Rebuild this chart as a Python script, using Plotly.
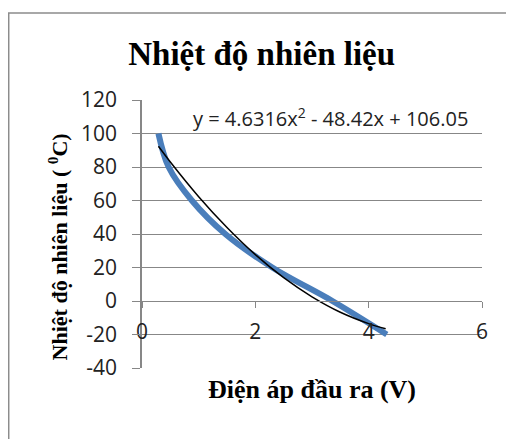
import plotly.graph_objects as go

# Measured data (blue curve)
volt = [0.29, 0.47, 0.88, 1.47, 2.30, 3.36, 4.32]
temp = [100, 80, 60, 40, 20, 0, -20]

# Trendline (black curve) values
fit_x = [0.29, 0.5, 1.0, 1.5, 2.0, 2.5, 3.0, 3.5, 4.0, 4.3]
fit_y = [92.4, 83.0, 62.3, 43.9, 27.7, 13.9, 2.5, -6.7, -13.5, -16.6]

x_ticks = [0, 2, 4, 6]
y_ticks = [-40, -20, 0, 20, 40, 60, 80, 100, 120]
x_ticktext = ["0", "2", "4", "6"]
y_ticktext = ["-40", "-20", "0", "20", "40", "60", "80", "100", "120"]

title_text = "Nhiệt độ nhiên liệu"
x_title = "Điện áp đầu ra (V)"
y_title = "Nhiệt độ nhiên liệu ( <sup>0</sup>C)"
equation = "y = 4.6316x<sup>2</sup> - 48.42x + 106.05"

GRID = "#878787"
SERIF = "Liberation Serif, Times New Roman, serif"
SANS = "Open Sans, Liberation Sans, sans-serif"

fig = go.Figure()
fig.add_trace(go.Scatter(x=volt, y=temp, mode="lines",
                         line=dict(color="#4A7EBB", width=6, shape="spline", smoothing=1.0),
                         hoverinfo="skip"))
fig.add_trace(go.Scatter(x=fit_x, y=fit_y, mode="lines",
                         line=dict(color="#000000", width=1.5, shape="spline"),
                         hoverinfo="skip"))

fig.update_layout(
    width=506, height=431,
    margin=dict(l=134, r=32, t=92, b=71),
    paper_bgcolor="white", plot_bgcolor="white",
    showlegend=False,
    title=dict(text=f"<b>{title_text}</b>", font=dict(family=SERIF, size=33, color="#000"),
               xref="paper", x=0.352, xanchor="center", yref="container", y=0.8956, yanchor="middle"),
    xaxis=dict(range=[0, 6], tickvals=x_ticks, ticktext=x_ticktext, anchor="free", position=0.25,
               showline=True, linecolor=GRID, linewidth=1.3, showgrid=False, zeroline=False,
               ticks="outside", ticklen=6, tickcolor=GRID, tickwidth=1.3,
               ticklabelstandoff=6, automargin=False,
               tickfont=dict(family=SANS, size=21, color="#222")),
    yaxis=dict(range=[-40, 120], tickvals=y_ticks, ticktext=y_ticktext, domain=[0, 1],
               showline=True, linecolor=GRID, linewidth=1.5, showgrid=True, gridcolor=GRID, gridwidth=1.3,
               zeroline=False, ticks="outside", ticklen=8, tickcolor=GRID, tickwidth=1.3,
               ticklabelstandoff=11, automargin=False,
               tickfont=dict(family=SANS, size=21, color="#222")),
)

fig.add_annotation(text=equation, x=3.32, y=109.7, xref="x", yref="y", showarrow=False,
                   font=dict(family=SANS, size=20, color="#222"), xanchor="center", yanchor="middle")
fig.add_annotation(text=f"<b>{x_title}</b>", x=0.4996, y=-0.082, xref="paper", yref="paper",
                   showarrow=False, font=dict(family=SERIF, size=26, color="#000"),
                   xanchor="center", yanchor="middle")
fig.add_annotation(text=f"<b>{y_title}</b>", x=-0.247, y=0.45, xref="paper", yref="paper",
                   showarrow=False, textangle=-90, font=dict(family=SERIF, size=22, color="#000"),
                   xanchor="center", yanchor="middle")

# chart border
fig.add_shape(type="rect", xref="paper", yref="paper", x0=-0.392, y0=-0.3, x1=1.12, y1=1.3246,
              line=dict(color="#8C8C8C", width=1.5), fillcolor="rgba(0,0,0,0)", layer="below")

fig.write_html("out.html")
